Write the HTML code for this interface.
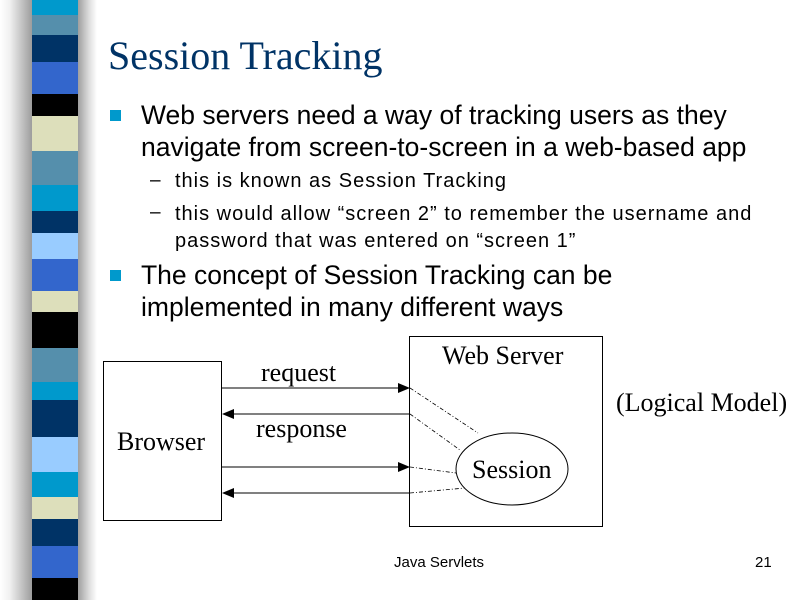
<!DOCTYPE html>
<html><head><style>
body{margin:0;width:800px;height:600px;background:#fff;position:relative;overflow:hidden;font-family:"Liberation Sans",sans-serif}
.sh{position:absolute;top:0;height:600px}
.s{position:absolute;left:32px;width:46px}
.t{position:absolute;white-space:nowrap}
</style></head><body>
<div class="sh" style="left:0;width:33px;background:linear-gradient(to right,#fff,#f0f0f0 30%,#999)"></div>
<div class="sh" style="left:77px;width:20px;background:linear-gradient(to right,#999,#ddd 60%,#fff)"></div>
<div class="s" style="top:0;height:15px;background:#0099cc"></div>
<div class="s" style="top:15px;height:20px;background:#558fac"></div>
<div class="s" style="top:35px;height:27px;background:#003366"></div>
<div class="s" style="top:62px;height:32px;background:#3366cc"></div>
<div class="s" style="top:94px;height:22px;background:#000"></div>
<div class="s" style="top:116px;height:35px;background:#dddfbb"></div>
<div class="s" style="top:151px;height:34px;background:#558fac"></div>
<div class="s" style="top:185px;height:26px;background:#0099cc"></div>
<div class="s" style="top:211px;height:22px;background:#003366"></div>
<div class="s" style="top:233px;height:26px;background:#99ccff"></div>
<div class="s" style="top:259px;height:32px;background:#3366cc"></div>
<div class="s" style="top:291px;height:21px;background:#dddfbb"></div>
<div class="s" style="top:312px;height:36px;background:#000"></div>
<div class="s" style="top:348px;height:34px;background:#558fac"></div>
<div class="s" style="top:382px;height:18px;background:#0099cc"></div>
<div class="s" style="top:400px;height:37px;background:#003366"></div>
<div class="s" style="top:437px;height:35px;background:#99ccff"></div>
<div class="s" style="top:472px;height:25px;background:#0099cc"></div>
<div class="s" style="top:497px;height:22px;background:#dddfbb"></div>
<div class="s" style="top:519px;height:27px;background:#003366"></div>
<div class="s" style="top:546px;height:32px;background:#3366cc"></div>
<div class="s" style="top:578px;height:22px;background:#000"></div>

<div class="t" style="left:108px;top:32px;font:40px 'Liberation Serif',serif;color:#003366">Session Tracking</div>
<div class="t" style="left:110px;top:110px;width:11px;height:11px;background:#0099cc"></div>
<div class="t" style="left:141px;top:99px;font-size:26.5px;line-height:32px">Web servers need a way of tracking users as they<br>navigate from screen-to-screen in a web-based app</div>
<div class="t" style="left:150px;top:170px;font-size:19px">–</div>
<div class="t" style="left:175px;top:170px;font-size:20px;letter-spacing:1px">this is known as Session Tracking</div>
<div class="t" style="left:150px;top:202px;font-size:19px">–</div>
<div class="t" style="left:175px;top:201px;font-size:20px;letter-spacing:1px;line-height:27px">this would allow “screen 2” to remember the username and<br>password that was entered on “screen 1”</div>
<div class="t" style="left:110px;top:270px;width:11px;height:11px;background:#0099cc"></div>
<div class="t" style="left:141px;top:259px;font-size:26.5px;line-height:32px">The concept of Session Tracking can be<br>implemented in many different ways</div>

<svg style="position:absolute;left:0;top:0" width="800" height="600">
<g fill="none" stroke="#000">
<rect x="103.5" y="361.5" width="118" height="159"/>
<rect x="409.5" y="336.5" width="193" height="190"/>
<ellipse cx="512" cy="469" rx="56" ry="36"/>
<line x1="222" y1="388" x2="398" y2="388"/>
<line x1="234" y1="414" x2="409" y2="414"/>
<line x1="222" y1="467" x2="398" y2="467"/>
<line x1="234" y1="493" x2="409" y2="493"/>
<g stroke-dasharray="4,2,1,2" stroke-width="0.8">
<line x1="410" y1="388" x2="478" y2="433"/>
<line x1="410" y1="414" x2="460" y2="450"/>
<line x1="410" y1="467" x2="456" y2="473"/>
<line x1="410" y1="493" x2="465" y2="488"/>
</g></g>
<g fill="#000">
<polygon points="398,383 410,388 398,393"/>
<polygon points="234,409 222,414 234,419"/>
<polygon points="398,462 410,467 398,472"/>
<polygon points="234,488 222,493 234,498"/>
</g>
<g font-family="Liberation Serif,serif" font-size="26">
<text x="117" y="450">Browser</text>
<text x="261" y="381">request</text>
<text x="256" y="437">response</text>
<text x="442" y="364">Web Server</text>
<text x="472" y="478">Session</text>
<text x="616" y="411">(Logical Model)</text>
</g>
<g font-family="Liberation Sans,sans-serif" font-size="15">
<text x="394" y="567">Java Servlets</text>
<text x="755" y="567">21</text>
</g>
</svg>
</body></html>
